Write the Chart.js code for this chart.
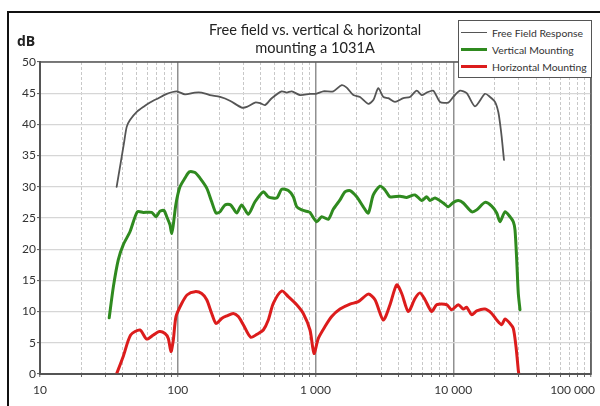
<!DOCTYPE html>
<html>
<head>
<meta charset="utf-8">
<script src="https://cdn.jsdelivr.net/npm/chart.js@4/dist/chart.umd.min.js"></script>
<style>
  html, body { margin: 0; padding: 0; background: #fff; overflow: hidden; }
  #wrap { position: relative; width: 600px; height: 406px; overflow: hidden; background: #fff; font-family: Lato, "Open Sans", sans-serif; }
  #frame { position: absolute; left: 7px; top: 11px; width: 700px; height: 500px; border: 2px solid #111; box-sizing: border-box; }
  #chart { position: absolute; left: 0; top: 0; }
  #title { position: absolute; left: 0; width: 630px; top: 21px; text-align: center; font-size: 14.6px; line-height: 18px; color: #222; }
  #unit { position: absolute; left: 17px; top: 31px; font-size: 14px; font-weight: bold; color: #222; font-family: "Open Sans", sans-serif; }
  #legend { position: absolute; left: 458px; top: 20px; width: 134px; height: 58px; box-sizing: border-box; border: 1.5px solid #555; background: #fff; padding-top: 3px; }
  .li { height: 17px; display: flex; align-items: center; font-size: 10.4px; color: #333; white-space: nowrap; }
  .sw { width: 26px; flex: none; margin-left: 2px; margin-right: 5px; }
</style>
</head>
<body>
<div id="wrap">
  <div id="frame"></div>
  <canvas id="chart" width="600" height="406"></canvas>
  <div id="title">Free field vs. vertical &amp; horizontal<br>mounting a 1031A</div>
  <div id="unit">dB</div>
  <div id="legend"></div>
</div>
<script>
// ---- Data ----
const seriesNames = ['Free Field Response', 'Vertical Mounting', 'Horizontal Mounting'];

const freeFieldFreq = [36, 38.5, 40.7, 42.6, 45, 50.4, 56.2, 62.9, 72.3, 83.2, 98.3, 113, 133, 149, 171, 203, 239, 291, 317, 364, 396, 430, 481, 568, 618, 672, 772, 912, 1008, 1139, 1346, 1550, 1685, 1882, 2104, 2417, 2628, 2858, 3106, 3377, 3777, 4340, 4853, 5428, 5902, 6416, 7166, 8013, 9208, 10009, 11195, 12518, 14385, 17003, 18484, 20096, 21232, 21846, 22470, 23080, 23350];
const freeFieldDb   = [30.0, 33.8, 37.0, 39.6, 40.7, 42.0, 42.8, 43.5, 44.2, 44.9, 45.3, 44.8, 45.1, 45.1, 44.7, 44.4, 43.8, 42.7, 42.8, 43.5, 43.4, 43.1, 44.2, 45.3, 45.1, 45.3, 44.7, 44.9, 44.9, 45.3, 45.3, 46.3, 45.9, 44.7, 44.4, 43.3, 43.9, 45.8, 44.4, 44.2, 43.6, 44.2, 44.4, 45.4, 44.7, 45.1, 45.4, 43.6, 43.5, 44.4, 45.4, 45.0, 42.9, 44.9, 44.4, 43.6, 42.0, 40.2, 38.0, 35.4, 34.3];

const verticalFreq = [31.8, 34.1, 37.0, 40.2, 45.0, 50.9, 56.2, 64.7, 69.5, 74.3, 79.5, 83.2, 87.8, 90.4, 92.8, 97.1, 103.8, 112.9, 121.3, 133.4, 145, 162.3, 176.4, 189.6, 202.7, 220.3, 242.3, 267.9, 291.2, 325.2, 363.8, 418, 454.3, 522.9, 568.4, 634.6, 690, 730.4, 793.9, 886.6, 912.2, 1020, 1109, 1239, 1346, 1506, 1637, 1780, 1991, 2223, 2417, 2628, 2939, 3195, 3474, 4107, 4593, 5277, 5902, 6416, 6781, 7371, 8470, 9208, 10009, 10881, 11830, 13612, 14798, 17003, 19013, 20673, 21846, 23756, 25823, 27283, 28074, 28882, 29665, 30520];
const verticalDb   = [9.0, 14.0, 18.3, 20.7, 22.8, 26.0, 25.9, 25.9, 25.2, 26.1, 26.2, 25.2, 23.9, 22.5, 23.9, 27.3, 30.0, 31.4, 32.4, 32.3, 31.4, 29.8, 27.6, 25.8, 26.0, 27.1, 27.1, 25.8, 27.1, 25.6, 27.6, 29.2, 28.4, 28.2, 29.6, 29.4, 28.4, 26.8, 26.3, 26.0, 25.9, 24.4, 25.2, 24.8, 26.4, 27.9, 29.2, 29.4, 28.4, 26.8, 25.8, 28.7, 30.1, 29.5, 28.4, 28.5, 28.3, 28.7, 27.8, 28.4, 27.8, 28.2, 27.4, 26.8, 27.5, 27.8, 27.4, 26.0, 26.3, 27.5, 26.9, 25.8, 24.4, 26.0, 25.2, 24.4, 23.1, 18.3, 12.9, 10.3];

const horizontalFreq = [36.1, 40.2, 45.5, 53.2, 59.5, 66.5, 73.5, 80.8, 85.4, 89.3, 92.8, 97.1, 106.8, 117.3, 133.4, 149.2, 162.3, 176.4, 189.6, 208.4, 226.6, 253.1, 275.2, 299.2, 338.4, 384.4, 418, 454.3, 493.9, 568.4, 634.6, 730.4, 815.5, 912.2, 975.2, 1048, 1172, 1311, 1506, 1780, 2045, 2417, 2704, 3106, 3474, 3886, 4225, 4718, 5277, 5736, 6236, 6976, 7586, 8965, 9743, 10881, 11830, 12518, 13612, 14798, 17003, 19013, 20673, 22470, 23756, 25823, 27283, 28540, 29665, 29865];
const horizontalDb   = [0.1, 2.8, 6.25, 7.05, 5.6, 6.25, 6.8, 6.5, 5.7, 3.6, 5.4, 9.2, 11.3, 12.7, 13.2, 12.9, 11.9, 9.7, 8.1, 8.9, 9.3, 9.7, 9.2, 7.9, 5.9, 6.5, 7.05, 8.65, 11.3, 13.3, 12.4, 11.1, 9.7, 7.05, 3.3, 5.7, 7.6, 9.2, 10.4, 11.2, 11.6, 12.8, 11.9, 8.65, 11.1, 14.3, 12.9, 10.0, 12.1, 13.0, 11.9, 10.0, 11.1, 11.1, 10.3, 11.1, 10.4, 10.7, 9.5, 10.1, 10.4, 9.7, 8.65, 7.9, 8.8, 8.1, 7.3, 4.4, 0.6, 0.15];

// axis ticks
const xDecades = [10, 100, 1000, 10000, 100000];
const xTickLabels = ['10', '100', '1 000', '10 000', '100 000'];
const xMinorSteps = [2, 3, 4, 5, 6, 7, 8, 9];
const yTicks = [0, 5, 10, 15, 20, 25, 30, 35, 40, 45, 50];

const colors = ['#555555', '#2f8a1f', '#dc1c1c'];
const widths = [1.8, 3, 3];

// ---- build ----
function pts(xs, ys) { return xs.map((x, i) => ({ x: x, y: ys[i] })); }
const allX = [];
xDecades.forEach((d, i) => {
  allX.push(d);
  if (i < xDecades.length - 1) xMinorSteps.forEach(m => allX.push(d * m));
});
function isDecade(v) { return xDecades.indexOf(v) >= 0; }

const legend = document.getElementById('legend');
seriesNames.forEach((n, i) => {
  const row = document.createElement('div');
  row.className = 'li';
  row.innerHTML = '<div class="sw" style="height:' + widths[i] + 'px;background:' + colors[i] + '"></div><span>' + n + '</span>';
  legend.appendChild(row);
});

const framePlugin = {
  id: 'frame',
  afterDatasetsDraw(chart) {
    const a = chart.chartArea, c = chart.ctx;
    c.save();
    c.strokeStyle = '#555';
    c.lineWidth = 1.5;
    c.strokeRect(a.left, a.top, a.right - a.left, a.bottom - a.top);
    c.restore();
  }
};

new Chart(document.getElementById('chart'), {
  type: 'line',
  data: {
    datasets: [
      { label: seriesNames[0], data: pts(freeFieldFreq, freeFieldDb), borderColor: colors[0], borderWidth: widths[0] },
      { label: seriesNames[1], data: pts(verticalFreq, verticalDb), borderColor: colors[1], borderWidth: widths[1] },
      { label: seriesNames[2], data: pts(horizontalFreq, horizontalDb), borderColor: colors[2], borderWidth: widths[2] }
    ]
  },
  options: {
    responsive: false,
    animation: false,
    devicePixelRatio: 1,
    layout: { padding: { top: 62, right: 9, left: 0, bottom: 0 } },
    elements: { point: { radius: 0 }, line: { tension: 0.25, fill: false, borderJoinStyle: 'round', borderCapStyle: 'round' } },
    plugins: { legend: { display: false }, tooltip: { enabled: false }, title: { display: false } },
    scales: {
      x: {
        type: 'logarithmic',
        min: 10, max: 100000,
        afterBuildTicks: s => { s.ticks = allX.map(v => ({ value: v })); },
        afterFit: s => { s.height = 32; s.paddingLeft = 0; s.paddingRight = 0; },
        ticks: {
          autoSkip: false, maxRotation: 0, minRotation: 0, padding: 6,
          color: '#333', font: { family: 'Lato', size: 12 },
          callback: v => {
            const k = xDecades.indexOf(v);
            if (k < 0) return '';
            return k === xDecades.length - 1 ? xTickLabels[k] + '            ' : xTickLabels[k];
          }
        },
        grid: {
          color: c => (c.tick && isDecade(c.tick.value)) ? '#909090' : '#c8c8c8',
          lineWidth: c => (c.tick && isDecade(c.tick.value)) ? 1.5 : 1,
          tickLength: 3, tickColor: '#666', tickWidth: 1
        },
        border: {
          display: true, color: '#555', width: 2,
          dash: c => (c.tick && !isDecade(c.tick.value)) ? [3, 2] : []
        }
      },
      y: {
        min: 0, max: 50,
        afterBuildTicks: s => { s.ticks = yTicks.map(v => ({ value: v })); },
        afterFit: s => { s.width = 40; },
        ticks: { padding: 1, color: '#333', font: { family: 'Lato', size: 12 } },
        grid: { color: '#d6d6d6', lineWidth: 1.2, tickLength: 3, tickColor: '#555', tickWidth: 1 },
        border: { display: true, color: '#555', width: 2 }
      }
    }
  },
  plugins: [framePlugin]
});
</script>
</body>
</html>
